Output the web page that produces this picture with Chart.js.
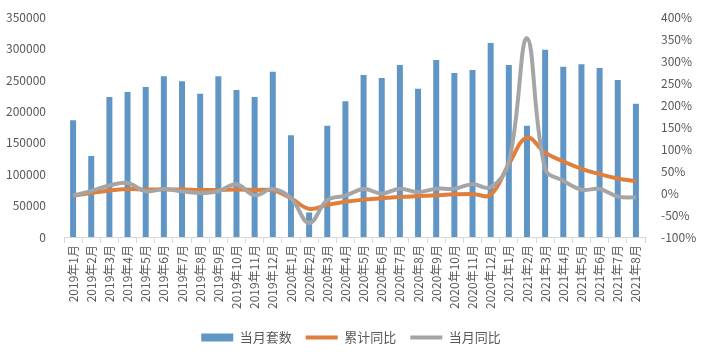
<!DOCTYPE html>
<html lang="zh">
<head>
<meta charset="UTF-8">
<title>当月套数与同比</title>
<script src="https://cdn.jsdelivr.net/npm/chart.js"></script>
<style>
  html, body { margin: 0; padding: 0; background: #fff; }
  #wrap { width: 702px; height: 360px; }
</style>
</head>
<body>
<div id="wrap"><canvas id="salesChart"></canvas></div>
<script>
const months = [
  '2019年1月','2019年2月','2019年3月','2019年4月','2019年5月','2019年6月',
  '2019年7月','2019年8月','2019年9月','2019年10月','2019年11月','2019年12月',
  '2020年1月','2020年2月','2020年3月','2020年4月','2020年5月','2020年6月',
  '2020年7月','2020年8月','2020年9月','2020年10月','2020年11月','2020年12月',
  '2021年1月','2021年2月','2021年3月','2021年4月','2021年5月','2021年6月',
  '2021年7月','2021年8月'
];

// 当月套数
const monthlyUnits = [
  186000, 129000, 223000, 231000, 239000, 256000, 248000, 228000, 256000, 234000, 223000, 263000,
  162000, 39000, 177000, 216000, 258000, 253000, 274000, 236000, 282000, 261000, 266000, 309000,
  274000, 177000, 298000, 271000, 275000, 269000, 250000, 212000
];

// 累计同比 (%)
const cumulativeYoY = [
  -6, 0, 6, 9, 8, 8, 8, 7, 7, 8, 7, 6,
  -12, -36, -27, -20, -15, -12, -9, -7, -5, -3, -2, -4,
  66, 126, 92, 72, 55, 43, 33, 27
];

// 当月同比 (%)
const monthlyYoY = [
  -6, 5, 17, 23, 4, 9, 4, 0, 4, 20, -5, 9,
  -12, -68, -16, -6, 9, -1, 10, 2, 10, 10, 20, 13,
  70, 352, 55, 28, 8, 9, -8, -10
];

const leftTicks = [0, 50000, 100000, 150000, 200000, 250000, 300000, 350000];
const rightTicks = [-100, -50, 0, 50, 100, 150, 200, 250, 300, 350, 400];

const fontFamily = '"Noto Sans CJK SC", "Noto Sans", sans-serif';
const textColor = '#595959';

const ctx = document.getElementById('salesChart').getContext('2d');
new Chart(ctx, {
  data: {
    labels: months,
    datasets: [
      {
        type: 'bar',
        label: '当月套数',
        data: monthlyUnits,
        backgroundColor: '#6096C6',
        yAxisID: 'y',
        categoryPercentage: 1,
        barPercentage: 0.33,
        order: 3
      },
      {
        type: 'line',
        label: '累计同比',
        data: cumulativeYoY,
        borderColor: '#E07E3C',
        backgroundColor: '#E07E3C',
        borderWidth: 4,
        pointRadius: 0,
        tension: 0.4,
        yAxisID: 'y1',
        order: 2
      },
      {
        type: 'line',
        label: '当月同比',
        data: monthlyYoY,
        borderColor: '#A5A5A5',
        backgroundColor: '#A5A5A5',
        borderWidth: 4,
        pointRadius: 0,
        tension: 0.4,
        yAxisID: 'y1',
        order: 1
      }
    ]
  },
  options: {
    responsive: true,
    maintainAspectRatio: false,
    animation: false,
    layout: { padding: { top: 12, bottom: 6 } },
    plugins: {
      tooltip: { enabled: false },
      legend: {
        position: 'bottom',
        labels: {
          color: textColor,
          font: { family: fontFamily, size: 13 },
          usePointStyle: true,
          pointStyleWidth: 32,
          boxHeight: 8,
          padding: 14,
          generateLabels(chart) {
            const items = Chart.defaults.plugins.legend.labels.generateLabels(chart);
            items.sort((a, b) => a.datasetIndex - b.datasetIndex);
            items.forEach(item => {
              const ds = chart.data.datasets[item.datasetIndex];
              if (ds.type === 'bar') {
                item.pointStyle = 'rect';
                item.fillStyle = ds.backgroundColor;
                item.lineWidth = 0;
              } else {
                item.pointStyle = 'line';
                item.strokeStyle = ds.borderColor;
                item.lineWidth = 4;
              }
            });
            return items;
          }
        }
      }
    },
    scales: {
      x: {
        offset: true,
        grid: {
          display: true,
          drawOnChartArea: false,
          offset: true,
          tickLength: 6,
          color: '#D9D9D9'
        },
        border: { color: '#D9D9D9' },
        ticks: {
          color: textColor,
          font: { family: fontFamily, size: 12 },
          minRotation: 90,
          maxRotation: 90,
          autoSkip: false,
          padding: 2
        },
        afterFit(scale) { scale.height = 80; }
      },
      y: {
        position: 'left',
        min: 0,
        max: 350000,
        afterBuildTicks(scale) { scale.ticks = leftTicks.map(v => ({ value: v })); },
        grid: { display: false },
        border: { display: false },
        ticks: {
          color: textColor,
          font: { family: fontFamily, size: 12 },
          padding: 10,
          callback: v => String(v)
        },
        afterFit(scale) { scale.width = 64; }
      },
      y1: {
        position: 'right',
        min: -100,
        max: 400,
        afterBuildTicks(scale) { scale.ticks = rightTicks.map(v => ({ value: v })); },
        grid: { display: false },
        border: { display: false },
        ticks: {
          color: textColor,
          font: { family: fontFamily, size: 12 },
          padding: 8,
          callback: v => v + '%'
        },
        afterFit(scale) { scale.width = 57; }
      }
    }
  }
});
</script>
</body>
</html>
